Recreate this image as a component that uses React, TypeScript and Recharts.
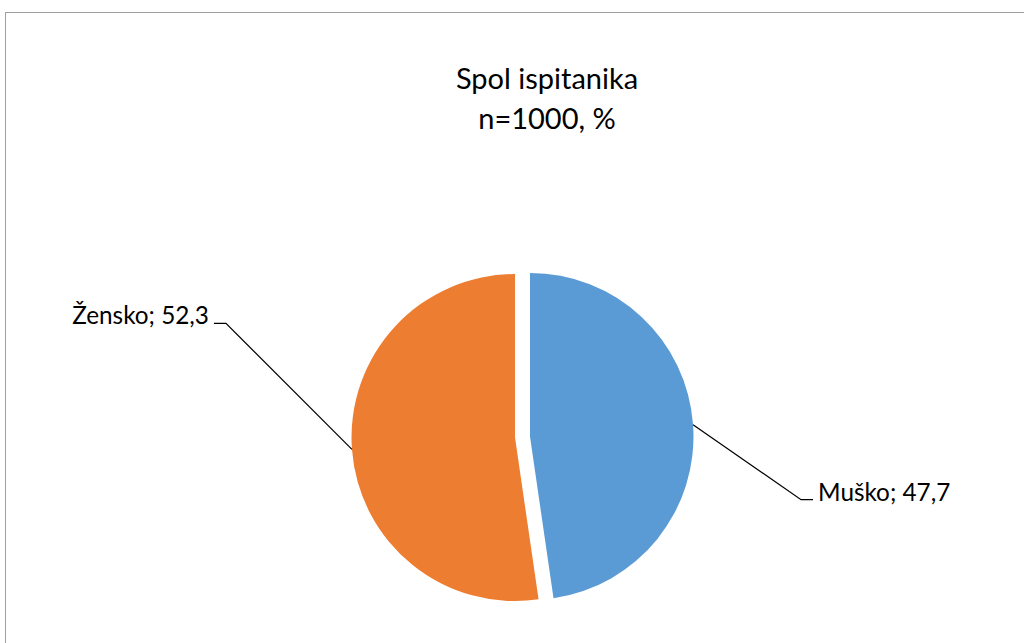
import React from "react";
import { PieChart, Pie, Cell } from "recharts";

const categories = ["Muško", "Žensko"];
const values = [47.7, 52.3];
const colors = ["#5B9BD5", "#ED7D31"];
const labelTexts = ["Muško; 47,7", "Žensko; 52,3"];

const data = categories.map((name, i) => ({ name, value: values[i] }));

const CX = 522.5;
const CY = 437;
const R = 163.5;
const EXPLODE = 7.5;
// elbow offsets of the leader lines from the slice edge point (layout only)
const elbowOffsets = [
  { dx: 108, dy: 75, side: 1 },
  { dx: -126, dy: -126, side: -1 },
];
const FONT = "Lato, 'Open Sans', sans-serif";

const total = values.reduce((a, b) => a + b, 0);
const midAngles = values.map((v, i) => {
  const cum = values.slice(0, i).reduce((a, b) => a + b, 0);
  return 90 - (360 * (cum + v / 2)) / total;
});

const RAD = Math.PI / 180;

const makeLabel = (only: number) => (props: any) => {
  const { cx, cy, midAngle, outerRadius, index } = props;
  if (index !== only) return null;
  const ex = cx + outerRadius * Math.cos(-midAngle * RAD);
  const ey = cy + outerRadius * Math.sin(-midAngle * RAD);
  const o = elbowOffsets[index];
  const kx = ex + o.dx;
  const ky = ey + o.dy;
  const hx = kx + o.side * 12;
  const tx = hx + o.side * 5;
  return (
    <g key={`lbl-${index}`}>
      <polyline
        points={`${ex},${ey} ${kx},${ky} ${hx},${ky}`}
        fill="none"
        stroke="#000"
        strokeWidth={1.25}
      />
      <text
        x={tx}
        y={ky + 1}
        textAnchor={o.side > 0 ? "start" : "end"}
        fontFamily={FONT}
        fontSize={24.3}
        fill="#000"
      >
        {labelTexts[index]}
      </text>
    </g>
  );
};

export default function App() {
  return (
    <div
      style={{
        position: "absolute",
        left: 0,
        top: 0,
        width: 1024,
        height: 643,
        overflow: "hidden",
        background: "#fff",
      }}
    >
      <div
        style={{
          position: "absolute",
          left: 5,
          top: 12,
          width: 1100,
          height: 700,
          border: "1px solid #a0a0a0",
        }}
      />
      <div
        style={{
          position: "absolute",
          left: 0,
          width: 1094,
          top: 58,
          textAlign: "center",
          fontFamily: FONT,
          fontSize: 29,
          lineHeight: "40px",
          color: "#000",
        }}
      >
        Spol ispitanika
        <br />
        n=1000, %
      </div>
      <div style={{ position: "absolute", left: 0, top: 0 }}>
        <PieChart
          width={1024}
          height={643}
          margin={{ top: 0, right: 0, bottom: 0, left: 0 }}
        >
          {data.map((_, k) => (
            <Pie
              key={k}
              data={data}
              dataKey="value"
              nameKey="name"
              cx={CX + EXPLODE * Math.cos(midAngles[k] * RAD)}
              cy={CY - EXPLODE * Math.sin(midAngles[k] * RAD)}
              outerRadius={R}
              startAngle={90}
              endAngle={-270}
              stroke="none"
              isAnimationActive={false}
              labelLine={false}
              label={makeLabel(k)}
            >
              {data.map((d, i) => (
                <Cell
                  key={d.name}
                  fill={i === k ? colors[i] : "transparent"}
                />
              ))}
            </Pie>
          ))}
        </PieChart>
      </div>
    </div>
  );
}
